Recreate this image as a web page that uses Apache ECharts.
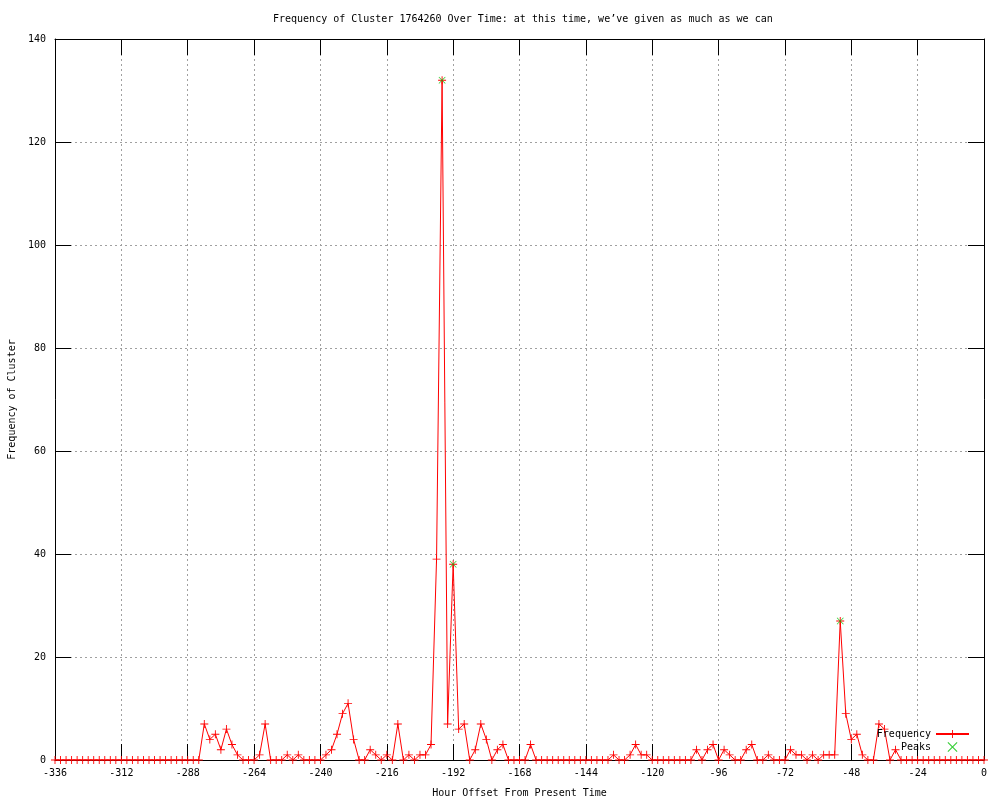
<!DOCTYPE html>
<html>
<head>
<meta charset="utf-8">
<script src="https://cdn.jsdelivr.net/npm/echarts@6/dist/echarts.min.js"></script>
<style>html,body{margin:0;padding:0;background:#fff}#c{width:1000px;height:800px}</style>
</head>
<body>
<div id="c"></div>
<script>
const hours = [
 -336,-334,-332,-330,-328,-326,-324,-322,-320,-318,-316,-314,-312,-310,-308,-306,-304,-302,-300,-298,
 -296,-294,-292,-290,-288,-286,-284,-282,-280,-278,-276,-274,-272,-270,-268,-266,-264,-262,-260,-258,
 -256,-254,-252,-250,-248,-246,-244,-242,-240,-238,-236,-234,-232,-230,-228,-226,-224,-222,-220,-218,
 -216,-214,-212,-210,-208,-206,-204,-202,-200,-198,-196,-194,-192,-190,-188,-186,-184,-182,-180,-178,
 -176,-174,-172,-170,-168,-166,-164,-162,-160,-158,-156,-154,-152,-150,-148,-146,-144,-142,-140,-138,
 -136,-134,-132,-130,-128,-126,-124,-122,-120,-118,-116,-114,-112,-110,-108,-106,-104,-102,-100,-98,
 -96,-94,-92,-90,-88,-86,-84,-82,-80,-78,-76,-74,-72,-70,-68,-66,-64,-62,-60,-58,
 -56,-54,-52,-50,-48,-46,-44,-42,-40,-38,-36,-34,-32,-30,-28,-26,-24,-22,-20,-18,
 -16,-14,-12,-10,-8,-6,-4,-2,0
];
const frequency = [
 0,0,0,0,0,0,0,0,0,0,0,0,0,0,0,0,0,0,0,0,
 0,0,0,0,0,0,0,7,4,5,2,6,3,1,0,0,0,1,7,0,
 0,0,1,0,1,0,0,0,0,1,2,5,9,11,4,0,0,2,1,0,
 1,0,7,0,1,0,1,1,3,39,132,7,38,6,7,0,2,7,4,0,
 2,3,0,0,0,0,3,0,0,0,0,0,0,0,0,0,0,0,0,0,
 0,1,0,0,1,3,1,1,0,0,0,0,0,0,0,0,2,0,2,3,
 0,2,1,0,0,2,3,0,0,1,0,0,0,2,1,1,0,1,0,1,
 1,1,27,9,4,5,1,0,0,7,6,0,2,0,0,0,0,0,0,0,
 0,0,0,0,0,0,0,0,0
];
const peakHours = [-196, -192, -52];
const peakValues = [132, 38, 27];

const FONT = 'DejaVu Sans Mono';
const plus = 'path://M4,0h1v4h4v1h-4v4h-1v-4h-4v-1h4z';
const cross = 'path://M0.7,0L4.5,3.8L8.3,0L9,0.7L5.2,4.5L9,8.3L8.3,9L4.5,5.2L0.7,9L0,8.3L3.8,4.5L0,0.7z';

const freqData = hours.map((h, i) => [h, frequency[i]]);
const peakData = peakHours.map((h, i) => [h, peakValues[i]]);

const chart = echarts.init(document.getElementById('c'), null, {renderer: 'canvas'});
function splitStyle() { return {show: true, lineStyle: {color: '#a0a0a0', type: [2, 3], width: 1}}; }
function tickStyle() { return {show: true, inside: true, length: 16, lineStyle: {color: '#000', width: 1}}; }
function axLine() { return {show: true, onZero: false, lineStyle: {color: '#000', width: 1}}; }
function lbl() { return {color: '#000', fontFamily: FONT, fontSize: 10}; }

chart.setOption({
  animation: false,
  backgroundColor: '#fff',
  title: {
    text: 'Frequency of Cluster 1764260 Over Time: at this time, we\u2019ve given as much as we can',
    left: 268, top: 9,
    textStyle: {color: '#000', fontFamily: FONT, fontSize: 10, fontWeight: 'normal'}
  },
  grid: {left: 55, right: 16, top: 39, bottom: 40, containLabel: false, outerBoundsMode: 'none'},
  legend: {
    orient: 'vertical', right: 25, top: 724, align: 'right',
    itemWidth: 33, itemHeight: 10, itemGap: 3,
    textStyle: {color: '#000', fontFamily: FONT, fontSize: 10},
    data: ['Frequency', 'Peaks']
  },
  xAxis: [{
    type: 'value', min: -336, max: 0, interval: 24, position: 'bottom',
    axisLine: axLine(), axisTick: tickStyle(), splitLine: splitStyle(),
    axisLabel: Object.assign({margin: 8}, lbl()),
    name: 'Hour Offset From Present Time', nameLocation: 'middle', nameGap: 28,
    nameTextStyle: lbl()
  }, {
    type: 'value', min: -336, max: 0, interval: 24, position: 'top',
    axisLine: axLine(), axisTick: tickStyle(), splitLine: {show: false}, axisLabel: {show: false}
  }],
  yAxis: [{
    type: 'value', min: 0, max: 140, interval: 20, position: 'left',
    axisLine: axLine(), axisTick: tickStyle(), splitLine: splitStyle(),
    axisLabel: Object.assign({margin: 9}, lbl()),
    name: 'Frequency of Cluster', nameLocation: 'middle', nameGap: 37,
    nameTextStyle: lbl()
  }, {
    type: 'value', min: 0, max: 140, interval: 20, position: 'right',
    axisLine: axLine(), axisTick: tickStyle(), splitLine: {show: false}, axisLabel: {show: false}
  }],
  series: [{
    name: 'Frequency', type: 'line', data: freqData,
    symbol: plus, symbolSize: 8, symbolKeepAspect: true, showAllSymbol: true,
    lineStyle: {color: '#ff0000', width: 1},
    itemStyle: {color: '#ff0000'},
    z: 3
  }, {
    name: 'Peaks', type: 'scatter', data: peakData,
    symbol: cross, symbolSize: 7, symbolKeepAspect: true,
    itemStyle: {color: '#00c000'},
    z: 4
  }]
});
</script>
</body>
</html>
